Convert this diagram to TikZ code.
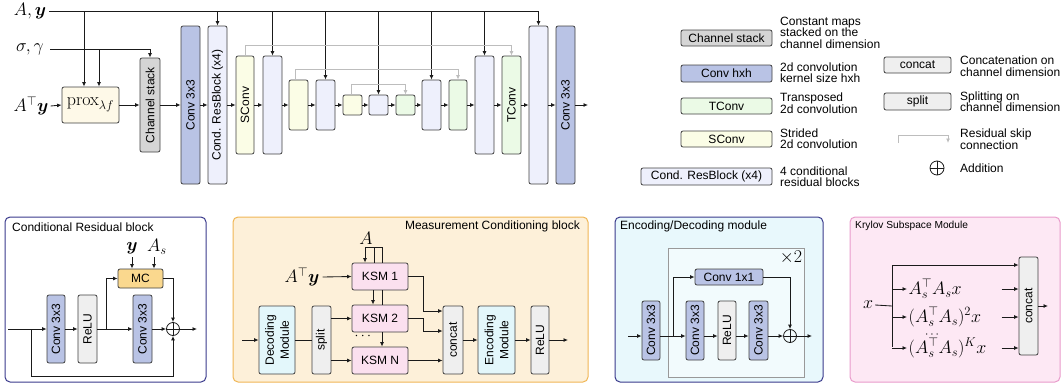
\documentclass[tikz,border=0pt]{standalone}
\usepackage{fix-cm}
\usepackage{amsmath,bm}
\usepackage[no-math]{fontspec}
\setmainfont{Liberation Sans}
\usetikzlibrary{arrows.meta,calc}

% block fills
\definecolor{convblue}{HTML}{B9C3E5}
\definecolor{condfill}{HTML}{EEF0FC}
\definecolor{sconvfill}{HTML}{FBFDE6}
\definecolor{tconvfill}{HTML}{EBFAE6}
\definecolor{stackgray}{HTML}{D5D5D5}
\definecolor{lightbox}{HTML}{EFEFEF}
\definecolor{proxfill}{HTML}{FEF9E8}
\definecolor{mcfill}{HTML}{FAD88E}
\definecolor{ksmfill}{HTML}{FBE0EF}
\definecolor{modfill}{HTML}{E3F7FB}
\definecolor{skipgray}{HTML}{BDBDBD}
\definecolor{inkc}{HTML}{1A1A1A}
% panel colours
\definecolor{navy}{HTML}{3A3A8C}
\definecolor{mcbg}{HTML}{FDF0D9}
\definecolor{mcborder}{HTML}{F0B655}
\definecolor{edbg}{HTML}{E8F8FC}
\definecolor{ksmbg}{HTML}{FDE8F4}
\definecolor{ksmborder}{HTML}{E99BCB}

\newcommand\mathsz{\fontsize{18}{21}\selectfont}
\newcommand\lblsz{\fontsize{12}{11.5}\selectfont}

\tikzset{
  box/.style={draw=black!75, line width=0.8pt, rounded corners=2pt,
    inner sep=0pt, fill=#1, font=\lblsz},
  vlbl/.style={font=\lblsz, inner sep=0pt, rotate=90},
  desc/.style={font=\lblsz, align=left, anchor=west, inner sep=0pt},
  mth/.style={font=\mathsz, inner sep=0pt},
  arr/.style={-{Latex[length=4.5pt,width=4pt]}, line width=0.85pt, draw=inkc},
  ln/.style={line width=0.85pt, draw=inkc},
  skipc/.style={-{Latex[length=4.5pt,width=4pt]}, line width=0.85pt, draw=skipgray},
  adder/.style={circle, draw=inkc, line width=0.8pt, minimum size=13pt,
    inner sep=0pt, path picture={
      \draw[line width=0.8pt, inkc]
        (path picture bounding box.north) -- (path picture bounding box.south)
        (path picture bounding box.west) -- (path picture bounding box.east);}},
  panel/.style={rounded corners=5pt, line width=1pt},
}

\begin{document}
\begin{tikzpicture}[x=1pt,y=-1pt]
\useasboundingbox (0,0) rectangle (1063,383);

%% ---------------- main network ----------------
\node[mth] (ay)  at (30,11)  {$A,\bm{y}$};
\node[mth] (sg)  at (30,49)  {$\sigma,\gamma$};
\node[mth] (aty) at (31,106) {$A^{\top}\bm{y}$};
\coordinate (ayin) at (49,11.5);
\coordinate (sgin) at (50,49);

\node[box=proxfill, minimum width=57pt, minimum height=36pt, font=\mathsz] (prox) at (90.5,105) {$\mathrm{prox}_{\lambda f}$};
\node[box=stackgray, minimum width=20pt, minimum height=94pt] (chs) at (150,105) {};
\node[box=convblue, minimum width=19pt, minimum height=158pt] (conv1) at (190.5,105) {};
\node[box=condfill, minimum width=19pt, minimum height=158pt] (crb1) at (217.5,105) {};
\node[box=sconvfill, minimum width=18pt, minimum height=98pt] (sc1) at (245,105) {};
\node[box=condfill, minimum width=19pt, minimum height=98pt] (crb2) at (272.5,105) {};
\node[box=sconvfill, minimum width=19pt, minimum height=50pt] (sc2) at (298.5,105) {};
\node[box=condfill, minimum width=19pt, minimum height=50pt] (crb3) at (325.5,105) {};
\node[box=sconvfill, minimum width=19pt, minimum height=20pt] (sc3) at (352.5,105) {};
\node[box=condfill, minimum width=19pt, minimum height=20pt] (crb4) at (378.5,105) {};
\node[box=tconvfill, minimum width=19pt, minimum height=20pt] (tc3) at (405.5,105) {};
\node[box=condfill, minimum width=19pt, minimum height=50pt] (crb5) at (431.5,105) {};
\node[box=tconvfill, minimum width=18pt, minimum height=50pt] (tc2) at (458,105) {};
\node[box=condfill, minimum width=19pt, minimum height=98pt] (crb6) at (484.5,105) {};
\node[box=tconvfill, minimum width=19pt, minimum height=98pt] (tc1) at (511.5,105) {};
\node[box=condfill, minimum width=19pt, minimum height=158pt] (crb7) at (538.5,105) {};
\node[box=convblue, minimum width=19pt, minimum height=158pt] (conv2) at (565.5,105) {};
\coordinate (netout) at (588,105);

\node[vlbl] at (chs)   {Channel stack};
\node[vlbl] at (conv1) {Conv 3x3};
\node[vlbl] at (crb1)  {Cond. ResBlock (x4)};
\node[vlbl] at (sc1)   {SConv};
\node[vlbl] at (tc1)   {TConv};
\node[vlbl] at (conv2) {Conv 3x3};

% chain
\draw[arr] (aty.east) ++(2,0) -- (prox.west);
\foreach \a/\b in {prox/chs, chs/conv1, conv1/crb1, crb1/sc1, sc1/crb2, crb2/sc2,
  sc2/crb3, crb3/sc3, sc3/crb4, crb4/tc3, tc3/crb5, crb5/tc2, tc2/crb6,
  crb6/tc1, tc1/crb7, crb7/conv2}
  \draw[arr] (\a.east) -- (\b.west);
\draw[arr] (conv2.east) -- (netout);

% measurement line A, y
\draw[arr] (ayin) -| (crb7.north);
\foreach \n in {crb1,crb2,crb3,crb4,crb5,crb6}
  \draw[arr] (\n.north |- ayin) -- (\n.north);
\draw[arr] ([xshift=-6.5pt]prox.north |- ayin) -- ([xshift=-6.5pt]prox.north);

% noise / parameter line
\draw[arr] (sgin) -| (chs.north);
\draw[arr] ([xshift=8.5pt]prox.north |- sgin) -- ([xshift=8.5pt]prox.north);

% residual skips
\draw[skipc] (sc1.north) -- (sc1.north |- 0,45) -| (tc1.north);
\draw[skipc] ([xshift=-3pt]sc2.north) -- ([xshift=-3pt]sc2.north |- 0,69) -| (tc2.north);
\draw[skipc] ([xshift=-1pt]sc3.north) -- ([xshift=-1pt]sc3.north |- 0,84) -| (tc3.north);

%% ---------------- legend ----------------
\node[box=stackgray, minimum width=91pt, minimum height=16pt] (lgstack) at (726.5,38) {Channel stack};
\node[box=convblue, minimum width=91pt, minimum height=17pt] (lgconv) at (726.5,73.5) {Conv hxh};
\node[box=tconvfill, minimum width=91pt, minimum height=16pt] (lgtconv) at (726.5,106) {TConv};
\node[box=sconvfill, minimum width=91pt, minimum height=16pt] (lgsconv) at (726.5,139) {SConv};
\node[box=condfill, minimum width=131pt, minimum height=17pt] (lgcond) at (706.5,176.5) {Cond. ResBlock (x4)};
\node[desc] (dstack) at (780,32.5) {Constant maps\\stacked on the\\channel dimension};
\node[desc] (dconv)  at (780,72.5) {2d convolution\\kernel size hxh};
\node[desc] (dtconv) at (780,103) {Transposed\\2d convolution};
\node[desc] (dsconv) at (780,138.5) {Strided\\2d convolution};
\node[desc] (dcond)  at (780,176.5) {4 conditional\\residual blocks};

\node[box=lightbox, minimum width=67pt, minimum height=16pt] (lgcat) at (917.5,65) {concat};
\node[box=lightbox, minimum width=67pt, minimum height=17pt] (lgsplit) at (917.5,101.5) {split};
\node[desc] (dcat)   at (960,66)    {Concatenation on\\channel dimension};
\node[desc] (dsplit) at (960,101.5) {Splitting on\\channel dimension};
\coordinate (lsk1) at (898,143);
\coordinate (lsk2) at (948,143);
\draw[skipc] (lsk1) -- ++(0,-8) -| (lsk2);
\node[desc] (dskip) at (960,139) {Residual skip\\connection};
\node[adder, minimum size=14pt] (lgadd) at (937,168) {};
\node[desc] (dadd) at (960,168) {Addition};

%% ---------------- Conditional Residual block ----------------
\draw[panel, draw=navy, fill=white] (5,217) rectangle (206,382);
\node[anchor=west, font=\lblsz, inner sep=0pt] at (12,227) {Conditional Residual block};
\node[box=convblue, minimum width=18pt, minimum height=68pt] (p1c1) at (56,329) {};
\node[box=lightbox, minimum width=19pt, minimum height=68pt] (p1relu) at (87.5,329) {};
\node[box=convblue, minimum width=19pt, minimum height=68pt] (p1c2) at (142.5,329) {};
\node[vlbl] at (p1c1) {Conv 3x3};
\node[vlbl] at (p1relu) {ReLU};
\node[vlbl] at (p1c2) {Conv 3x3};
\node[box=mcfill, minimum width=45pt, minimum height=19pt] (p1mc) at (140.5,278.5) {MC};
\node[adder] (p1add) at (173,329) {};
\node[mth] (p1y)  at (132,248) {$\bm{y}$};
\node[mth] (p1as) at (157,247) {$A_s$};
\coordinate (p1in) at (8,329);
\coordinate (p1br) at (31,329);
\coordinate (p1br2) at (106,329);
\coordinate (p1out) at (197,329);

\draw[arr] (p1in) -- (p1c1.west);
\draw[arr] (p1br) -- (p1br |- 0,376) -| (p1add.south);
\draw[arr] (p1c1.east) -- (p1relu.west);
\draw[arr] (p1relu.east) -- (p1c2.west);
\draw[arr] (p1br2) |- (p1mc.west);
\draw[arr] (p1mc.east) -| (p1add.north);
\draw[arr] (p1c2.east) -- (p1add.west);
\draw[arr] (p1add.east) -- (p1out);
\draw[arr] (p1y.south |- 0,257) -- (p1y.south |- p1mc.north);
\draw[arr] ([xshift=-3pt]p1as.south |- 0,257) -- ([xshift=-3pt]p1as.south |- p1mc.north);

%% ---------------- Measurement Conditioning block ----------------
\draw[panel, draw=mcborder, fill=mcbg] (233,217) rectangle (588,382);
\node[anchor=east, font=\lblsz, inner sep=0pt] at (580,226) {Measurement Conditioning block};
\node[box=modfill, minimum width=36pt, minimum height=68pt] (p2dec) at (277,340) {};
\node[vlbl, align=center, font=\fontsize{12}{15}\selectfont] at (p2dec) {Decoding\\Module};
\node[box=lightbox, minimum width=19pt, minimum height=68pt] (p2split) at (321.5,340) {};
\node[vlbl] at (p2split) {split};
\node[box=ksmfill, minimum width=56pt, minimum height=27pt] (p2k1) at (380,276.5) {KSM 1};
\node[box=ksmfill, minimum width=56pt, minimum height=27pt] (p2k2) at (380,318.5) {KSM 2};
\node[box=ksmfill, minimum width=56pt, minimum height=27pt] (p2kn) at (380,360.5) {KSM N};
\node[box=lightbox, minimum width=20pt, minimum height=68pt] (p2cat) at (453,340) {};
\node[vlbl] at (p2cat) {concat};
\node[box=modfill, minimum width=37pt, minimum height=68pt] (p2enc) at (496.5,340) {};
\node[vlbl, align=center, font=\fontsize{12}{15}\selectfont] at (p2enc) {Encoding\\Module};
\node[box=lightbox, minimum width=18pt, minimum height=68pt] (p2relu) at (540,340) {};
\node[vlbl] at (p2relu) {ReLU};
\node[mth] (p2aty) at (302,277) {$A^{\top}\bm{y}$};
\node[mth] (p2A) at (366,238) {$A$};
\coordinate (p2in) at (242,340);
\coordinate (p2out) at (568,340);

\draw[arr] (p2in) -- (p2dec.west);
\draw[ln] (p2dec.east) -- (p2split.west);
\draw[arr] (p2split.east |- p2k2.west) -- (p2k2.west);
\draw[arr] (p2split.east |- p2kn.west) -- (p2kn.west);
\draw[arr] (p2aty.east) ++(3,0) -- (p2k1.west);
% operator A feeding the Krylov modules
\draw[ln] ($(p2k1.north)+(-15,-15)$) -| ($(p2k1.north)+(2,0)$);
\draw[ln] ($(p2k1.north)+(-6,-15)$) -- ($(p2k1.north)+(-6,0)$);
\draw[arr] ($(p2k1.north)+(-15,-15)$) -- ($(p2k1.north)+(-15,0)$);
\draw[arr] ($(p2k1.south)+(-7,0)$) -- ($(p2k2.north)+(-7,0)$);
\draw[ln] ($(p2k1.south)+(2,0)$) -- ($(p2k2.north)+(2,0)$);
\draw[arr] ($(p2k2.south)+(2,0)$) -- ($(p2kn.north)+(2,0)$);
\node[font=\fontsize{14}{14}\selectfont, inner sep=0pt] (p2dots) at (364,336) {$\cdots$};
% Krylov features to concat
\draw[arr] (p2k1.east) -- ($(p2k1.east)+(15,0)$) |- ($(p2cat.west)+(0,-29)$);
\draw[arr] (p2k2.east) -- ($(p2k2.east)+(15,0)$) |- ($(p2cat.west)+(0,-9)$);
\draw[arr] (p2kn.east) -- (p2cat.west |- p2kn.east);
\draw[arr] (p2cat.east) -- (p2enc.west);
\draw[arr] (p2enc.east) -- (p2relu.west);
\draw[arr] (p2relu.east) -- (p2out);

%% ---------------- Encoding/Decoding module ----------------
\draw[panel, draw=navy, fill=edbg] (615,217) rectangle (823,382);
\node[anchor=west, font=\lblsz, inner sep=0pt] at (620,226) {Encoding/Decoding module};
\draw[draw=black!40, line width=0.8pt, fill=white!45!edbg] (668,248) rectangle (804,377);
\node[mth] at (791,257) {$\times 2$};
\node[box=convblue, minimum width=18pt, minimum height=59pt] (p3c1) at (651,330.5) {};
\node[box=convblue, minimum width=18pt, minimum height=59pt] (p3c2) at (695,330.5) {};
\node[box=lightbox, minimum width=18pt, minimum height=59pt] (p3relu) at (727,330.5) {};
\node[box=convblue, minimum width=19pt, minimum height=59pt] (p3c3) at (758.5,330.5) {};
\node[vlbl] at (p3c1) {Conv 3x3};
\node[vlbl] at (p3c2) {Conv 3x3};
\node[vlbl] at (p3relu) {ReLU};
\node[vlbl] at (p3c3) {Conv 3x3};
\node[box=convblue, minimum width=68pt, minimum height=16pt] (p3k) at (729,277) {Conv 1x1};
\node[adder] (p3add) at (790,336) {};
\coordinate (p3in) at (628,336);
\coordinate (p3br) at (673,336);
\coordinate (p3out) at (812,336);

\draw[arr] (p3in) -- (p3c1.west |- p3add);
\draw[arr] (p3c1.east |- p3add) -- (p3c2.west |- p3add);
\draw[arr] (p3c2.east |- p3add) -- (p3relu.west |- p3add);
\draw[arr] (p3relu.east |- p3add) -- (p3c3.west |- p3add);
\draw[arr] (p3c3.east |- p3add) -- (p3add.west);
\draw[arr] (p3br) |- (p3k.west);
\draw[arr] (p3k.east) -| (p3add.north);
\draw[arr] (p3add.east) -- (p3out);

%% ---------------- Krylov Subspace Module ----------------
\draw[panel, draw=ksmborder, fill=ksmbg] (850,217) rectangle (1060,382);
\node[anchor=west, font=\fontsize{10.2}{12}\selectfont, inner sep=0pt] at (855,226) {Krylov Subspace Module};
\node[box=lightbox, minimum width=19pt, minimum height=98pt] (p4cat) at (1028.5,306) {};
\node[vlbl] at (p4cat) {concat};
\node[mth] (p4x) at (868,305) {$x$};
\coordinate (p4t0) at (892,306);
\coordinate (p4t1) at (892,265);
\coordinate (p4t2) at (892,347);
\node[mth, anchor=west, inner xsep=1.5pt] (p4r1) at (907,289) {$A_s^{\top}A_s x$};
\node[mth, anchor=west, inner xsep=1.5pt] (p4r2) at (907,317) {$(A_s^{\top}A_s)^2 x$};
\node[mth, anchor=west, inner xsep=1.5pt] (p4r3) at (907,348) {$(A_s^{\top}A_s)^K x$};
\node[font=\fontsize{12}{12}\selectfont, inner sep=0pt] (p4dots) at (933,334.5) {$\cdots$};
\coordinate (p4out) at (1048,306);

\draw[ln] (p4x.east) ++(2,0) -- (p4t0);
\draw[ln] (p4t1) -- (p4t2);
\draw[arr] (p4t1) -- (p4cat.west |- p4t1);
\foreach \r in {p4r1,p4r2,p4r3}{
  \draw[arr] (p4t1 |- \r.west) -- (\r.west);
  \draw[arr] ($(p4cat.west |- \r.west)+(-17,0)$) -- (p4cat.west |- \r.west);
}
\draw[arr] (p4cat.east) -- (p4out);

\end{tikzpicture}
\end{document}
